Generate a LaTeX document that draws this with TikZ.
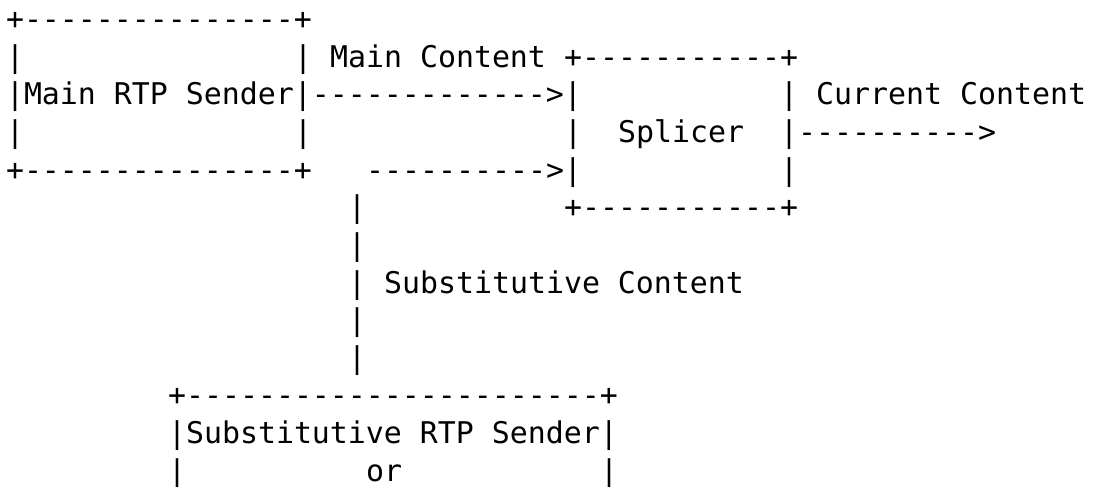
\documentclass[tikz,border=0pt]{standalone}
\usepackage{fontspec}
\setmonofont{DejaVu Sans Mono}
\newcommand\asciiseg[4]{\node[ascii] (#1) at ({6+18*#3},{29.8+37.6*#2}) {#4};}
\begin{document}
\begin{tikzpicture}[x=1pt,y=-1pt,
  ascii/.style={anchor=base west,inner sep=0pt,outer sep=0pt,
    font=\ttfamily\fontsize{29.9}{37.6}\selectfont,text=black}]
\useasboundingbox (0,0) rectangle (1096,487);
% row 0
\asciiseg{msTop}{0}{0}{+---------------+}
% row 1
\asciiseg{msL1}{1}{0}{|}
\asciiseg{msR1}{1}{16}{|}
\asciiseg{mainLbl}{1}{18}{Main Content}
\asciiseg{spTop}{1}{31}{+-----------+}
% row 2
\asciiseg{msMid}{2}{0}{|Main RTP Sender|------------->|}
\asciiseg{spR2}{2}{43}{|}
\asciiseg{curLbl}{2}{45}{Current Content}
% row 3
\asciiseg{msL3}{3}{0}{|}
\asciiseg{msR3}{3}{16}{|}
\asciiseg{spL3}{3}{31}{|}
\asciiseg{spName}{3}{34}{Splicer}
\asciiseg{curArrow}{3}{43}{|---------->}
% row 4
\asciiseg{msBot}{4}{0}{+---------------+}
\asciiseg{subArrow}{4}{20}{---------->|}
\asciiseg{spR4}{4}{43}{|}
% row 5
\asciiseg{v5}{5}{19}{|}
\asciiseg{spBot}{5}{31}{+-----------+}
% rows 6-9
\asciiseg{v6}{6}{19}{|}
\asciiseg{v7}{7}{19}{|}
\asciiseg{subLbl}{7}{21}{Substitutive Content}
\asciiseg{v8}{8}{19}{|}
\asciiseg{v9}{9}{19}{|}
% rows 10-12
\asciiseg{ssTop}{10}{9}{+-----------------------+}
\asciiseg{ssName}{11}{9}{|Substitutive RTP Sender|}
\asciiseg{ssL12}{12}{9}{|}
\asciiseg{ssOr}{12}{20}{or}
\asciiseg{ssR12}{12}{33}{|}
\end{tikzpicture}
\end{document}
